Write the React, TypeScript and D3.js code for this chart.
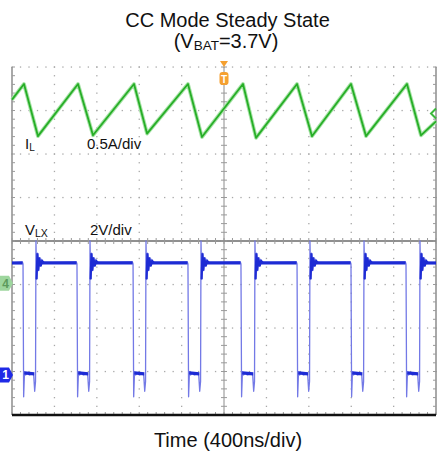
import React from 'react'
import * as d3 from 'd3'

const W = 438, H = 454
const LEFT = 12, RIGHT = 436, TOP = 67, BOTTOM = 415
const X_DIVS = 10, Y_DIVS = 8, MINOR = 5

// time base: 400 ns/div
const T_SPAN_NS = 4000

// inductor current (channel 4, 0.5 A/div)
const IL_A_PER_DIV = 0.5
const IL_ZERO_DIV = -0.97
const IL_T_NS = [0, 113, 245, 623, 764, 1151, 1274, 1660, 1792, 2179, 2302, 2689, 2830, 3198, 3340, 3726, 3858, 4000]
const IL_A = [2.11, 2.29, 1.69, 2.29, 1.70, 2.29, 1.72, 2.29, 1.68, 2.29, 1.67, 2.29, 1.69, 2.29, 1.69, 2.29, 1.70, 1.86]
const IL_TRIG_A = 1.95

// switch node (channel 1, 2 V/div)
const VLX_V_PER_DIV = 2
const VLX_ZERO_DIV = -3.08
const VLX_FALL_NS = [104, 613, 1142, 1660, 2160, 2689, 3198, 3717]
const VLX_RISE_NS = [226, 736, 1264, 1783, 2292, 2811, 3321, 3849]
const VLX_HIGH = 5.15
// [offset ns, volts] around each edge
const FALL_SHAPE: [number, number][] = [[-6, 5.2], [0, 5.1], [6, -1.0], [14, 0.15], [24, 0.0], [40, 0.1], [60, 0.0]]
const RISE_SHAPE: [number, number][] = [[-22, 0.05], [-12, -0.75], [-4, -0.3], [0, 6.16], [6, 4.4], [14, 5.6], [22, 4.8], [32, 5.4], [44, 5.0], [58, 5.25], [75, 5.15]]

const TITLE_1 = 'CC Mode Steady State'
const X_LABEL = 'Time (400ns/div)'

const FONT = 'Liberation Sans, Arial, sans-serif'

export default function App() {
  const x = d3.scaleLinear().domain([0, T_SPAN_NS]).range([LEFT, RIGHT])
  const yDiv = d3.scaleLinear().domain([-Y_DIVS / 2, Y_DIVS / 2]).range([BOTTOM, TOP])
  const ilY = (a: number) => yDiv(a / IL_A_PER_DIV + IL_ZERO_DIV)
  const vY = (v: number) => yDiv(v / VLX_V_PER_DIV + VLX_ZERO_DIV)

  const divX = d3.scaleLinear().domain([0, X_DIVS]).range([LEFT, RIGHT])
  const xMinor = d3.range(0, X_DIVS * MINOR + 1).map(i => divX(i / MINOR))
  const yMinor = d3.range(0, Y_DIVS * MINOR + 1).map(i => yDiv(-Y_DIVS / 2 + i / MINOR))
  const xMajor = d3.range(1, X_DIVS).map(i => divX(i))
  const yMajor = d3.range(-Y_DIVS / 2 + 1, Y_DIVS / 2).map(i => yDiv(i))
  const cx = divX(X_DIVS / 2), cy = yDiv(0)

  // IL trace
  const ilPts = IL_T_NS.map((t, i) => [x(t), ilY(IL_A[i])] as [number, number])
  const ilPath = d3.line()(ilPts) ?? ''

  // VLX trace
  const vPts: [number, number][] = [[0, VLX_HIGH]]
  const highSegs: [number, number][][] = []
  const lowSegs: [number, number][][] = []
  let lastHighStart = 0
  VLX_FALL_NS.forEach((tf, i) => {
    const tr = VLX_RISE_NS[i]
    highSegs.push([[lastHighStart, VLX_HIGH], [tf - 4, VLX_HIGH]])
    FALL_SHAPE.forEach(([o, v]) => { if (tf + o < tr - 22) vPts.push([tf + o, v]) })
    lowSegs.push([[tf + 12, 0.1], [tr - 16, 0.05]])
    RISE_SHAPE.forEach(([o, v]) => vPts.push([tr + o, v]))
    lastHighStart = tr + 6
  })
  highSegs.push([[lastHighStart, VLX_HIGH], [T_SPAN_NS, VLX_HIGH]])
  vPts.push([T_SPAN_NS, VLX_HIGH])
  const vLine = d3.line<[number, number]>().x(d => x(d[0])).y(d => vY(d[1]))
  const vPath = vLine(vPts) ?? ''

  const ringSegs = VLX_RISE_NS.map(tr => RISE_SHAPE.filter(([o]) => o >= 6).map(([o, v]) => [tr + o, v] as [number, number]))

  const dotColor = '#a8a8a8'
  const tickColor = '#9a9a9a'

  const g4y = ilY(0)
  const g1y = vY(0)
  const trigY = ilY(IL_TRIG_A)

  return (
    <svg width={W} height={H} style={{ position: 'absolute', left: 0, top: 0, background: '#fff' }} fontFamily={FONT}>
      {/* title */}
      <text x={227.5} y={27} textAnchor="middle" fontSize={20} fill="#111">{TITLE_1}</text>
      <text x={226} y={48} textAnchor="middle" fontSize={20} fill="#111">
        (V<tspan fontSize={13.5} dy={2}>BAT</tspan><tspan dy={-2}>=3.7V)</tspan>
      </text>

      {/* dotted grid */}
      <g fill={dotColor}>
        {[yDiv(Y_DIVS / 2), ...yMajor.filter(y => Math.abs(y - cy) > 1)].map((y, i) =>
          xMinor.map((xx, j) => <rect key={`h${i}-${j}`} x={xx - 0.6} y={y - 0.6} width={1.3} height={1.3} />)
        )}
        {xMajor.filter(xx => Math.abs(xx - cx) > 1).map((xx, i) =>
          yMinor.map((y, j) => <rect key={`v${i}-${j}`} x={xx - 0.6} y={y - 0.6} width={1.3} height={1.3} />)
        )}
      </g>

      {/* borders and center axes */}
      <line x1={LEFT} x2={LEFT} y1={TOP} y2={BOTTOM} stroke="#8c8c8c" strokeWidth={1.5} />
      <line x1={RIGHT} x2={RIGHT} y1={TOP} y2={BOTTOM} stroke="#8c8c8c" strokeWidth={1.5} />
      <line x1={cx} x2={cx} y1={TOP} y2={BOTTOM} stroke="#8c8c8c" strokeWidth={1} />
      <line x1={LEFT} x2={RIGHT} y1={cy} y2={cy} stroke="#222" strokeWidth={1.2} />
      <g stroke={tickColor} strokeWidth={1}>
        {yMinor.map((y, i) => <line key={`l${i}`} x1={LEFT} x2={LEFT + 3} y1={y} y2={y} />)}
        {yMinor.map((y, i) => <line key={`r${i}`} x1={RIGHT - 3} x2={RIGHT} y1={y} y2={y} />)}
        {yMinor.map((y, i) => <line key={`c${i}`} x1={cx - 3} x2={cx + 3} y1={y} y2={y} />)}
        {xMinor.map((xx, i) => <line key={`m${i}`} x1={xx} x2={xx} y1={cy - 3} y2={cy + 3} />)}
        {xMinor.map((xx, i) => <line key={`b${i}`} x1={xx} x2={xx} y1={BOTTOM - 3} y2={BOTTOM} />)}
      </g>
      <line x1={LEFT} x2={RIGHT} y1={BOTTOM} y2={BOTTOM} stroke="#111" strokeWidth={2.5} />

      {/* channel labels */}
      <text x={25} y={149} fontSize={15} fill="#111">I<tspan fontSize={10} dy={2}>L</tspan></text>
      <text x={87} y={149} fontSize={15} fill="#111">0.5A/div</text>
      <text x={25} y={235} fontSize={15} fill="#111">V<tspan fontSize={10.5} dy={2}>LX</tspan></text>
      <text x={90} y={235} fontSize={15} fill="#111">2V/div</text>

      {/* VLX trace */}
      <path d={vPath} fill="none" stroke="#7379e6" strokeWidth={1.3} strokeLinejoin="round" />
      {highSegs.map((s, i) => <path key={`hs${i}`} d={vLine(s) ?? ''} fill="none" stroke="#1d2bd4" strokeWidth={3.2} />)}
      {lowSegs.map((s, i) => <path key={`ls${i}`} d={vLine(s) ?? ''} fill="none" stroke="#1d2bd4" strokeWidth={3.2} />)}
      {ringSegs.map((s, i) => <path key={`rs${i}`} d={vLine(s) ?? ''} fill="none" stroke="#1d2bd4" strokeWidth={2.2} />)}

      {/* IL trace */}
      <path d={ilPath} fill="none" stroke="#a6e3a6" strokeWidth={3.8} strokeLinejoin="round" />
      <path d={ilPath} fill="none" stroke="#27ae27" strokeWidth={1.8} strokeLinejoin="round" />

      {/* channel ground markers */}
      <path d={`M0,${g4y - 7.5} H9 L13,${g4y} L9,${g4y + 7.5} H0 Z`} fill="#9ed69e" />
      <text x={5.5} y={g4y + 4.5} fontSize={12} textAnchor="middle" fill="#5c9a5c" fontWeight="bold">4</text>
      <path d={`M0,${g1y - 7.5} H9 L13,${g1y} L9,${g1y + 7.5} H0 Z`} fill="#1f2ae6" />
      <text x={5.5} y={g1y + 4.5} fontSize={12} textAnchor="middle" fill="#fff" fontWeight="bold">1</text>

      {/* trigger position and level */}
      <path d={`M${cx - 4},${TOP - 6} H${cx + 4} L${cx},${TOP} Z`} fill="#f5a030" />
      <rect x={cx - 4.5} y={TOP + 5} width={9} height={13} rx={3} fill="#f5a030" />
      <text x={cx} y={TOP + 15.5} fontSize={10} textAnchor="middle" fill="#fff" fontWeight="bold">T</text>
      <path d={`M${RIGHT},${trigY - 5} L${RIGHT - 5},${trigY} L${RIGHT},${trigY + 5}`} fill="none" stroke="#3cb83c" strokeWidth={2} />

      {/* x label */}
      <text x={228} y={447} textAnchor="middle" fontSize={20} fill="#111">{X_LABEL}</text>
    </svg>
  )
}
